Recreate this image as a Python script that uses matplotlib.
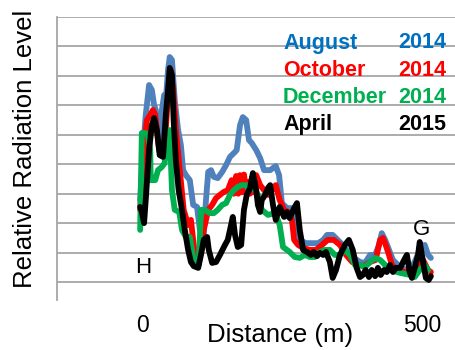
"""Radiation level along the transect for four survey campaigns."""

import matplotlib

matplotlib.use("Agg")

import matplotlib.pyplot as plt
import numpy as np

plt.rcParams["font.family"] = ["Liberation Sans", "DejaVu Sans"]

# distance (m), relative level for each survey
aug_x = [-5, 0, 5, 11, 16, 20, 23, 27, 30, 34, 38, 41, 45, 48, 52, 57, 63, 68, 72, 77,
         84, 90, 97, 102, 108, 113, 117, 122, 127, 134, 142, 149, 156, 163, 168, 174,
         179, 185, 190, 195, 203, 210, 217, 228, 238, 244, 249, 258, 267, 274, 281,
         292, 303, 314, 323, 330, 340, 349, 358, 367, 378, 389, 398, 407, 416, 423,
         428, 434, 441, 448, 457, 470, 479, 487, 496, 505, 511, 516]
aug_y = [2.79, 4.48, 5.67, 6.69, 6.52, 6.01, 5.84, 4.99, 4.82, 5.84, 6.35, 6.18, 7.2,
         7.64, 7.54, 6.18, 5.16, 4.65, 3.8, 3.63, 3.46, 2.62, 2.55, 1.77, 1.43, 2.79,
         3.74, 3.8, 3.57, 3.53, 3.74, 3.97, 4.25, 4.38, 4.48, 5.33, 5.6, 5.5, 4.82,
         4.72, 4.48, 4.21, 3.8, 3.8, 3.94, 3.63, 2.68, 2.51, 2.51, 2.11, 1.43, 1.32,
         1.32, 1.32, 1.43, 1.6, 1.6, 1.43, 1.26, 1.02, 0.82, 0.68, 0.65, 0.92, 0.92,
         1.26, 1.66, 1.43, 1.09, 0.75, 0.58, 0.41, 0.48, 0.68, 1.09, 1.26, 0.92, 0.82]

oct_x = [-5, 0, 7, 13, 18, 22, 25, 29, 32, 36, 39, 45, 50, 54, 59, 66, 73, 81, 86, 91,
         95, 100, 104, 109, 117, 124, 131, 138, 145, 152, 159, 163, 167, 171, 174,
         178, 181, 185, 188, 192, 195, 199, 203, 210, 217, 224, 231, 238, 245, 253,
         260, 267, 271, 278, 288, 299, 310, 321, 331, 342, 353, 364, 375, 385, 396,
         407, 417, 425, 430, 435, 441, 446, 457, 470, 482, 493, 502, 511, 516]
oct_y = [2.45, 4.14, 5.5, 5.67, 5.84, 5.67, 5.16, 4.48, 4.42, 4.48, 4.65, 6.35, 7.2,
         6.52, 5.16, 3.8, 2.45, 1.94, 2.11, 1.26, 0.75, 0.65, 1.09, 1.77, 2.45, 2.62,
         2.85, 2.96, 3.06, 3.12, 3.46, 3.0, 3.6, 3.0, 3.63, 3.05, 3.65, 3.1, 3.4, 3.0,
         3.53, 3.05, 3.63, 3.29, 3.12, 2.96, 3.12, 3.29, 2.79, 2.45, 2.38, 2.11, 1.43,
         1.26, 1.15, 1.09, 1.09, 1.26, 1.43, 1.43, 1.26, 0.92, 0.68, 0.58, 0.54, 0.68,
         0.75, 1.43, 1.5, 1.26, 0.92, 0.58, 0.41, 0.34, 0.34, 0.58, 0.75, 0.41, 0.34]

dec_x = [-5, -2, 4, 9, 13, 14, 22, 27, 34, 39, 43, 48, 52, 57, 65, 70, 77, 84, 90, 97,
         100, 104, 111, 120, 127, 134, 142, 149, 156, 163, 170, 177, 185, 190, 197,
         206, 213, 224, 237, 245, 251, 263, 272, 281, 290, 299, 308, 317, 326, 335,
         344, 353, 362, 371, 380, 389, 398, 407, 416, 425, 434, 443, 461, 479, 487,
         496, 505, 511]
dec_y = [1.77, 5.06, 5.06, 4.99, 4.48, 3.46, 3.46, 3.8, 3.91, 4.04, 5.16, 5.16, 3.12,
         2.45, 2.38, 1.77, 1.53, 1.53, 0.82, 0.65, 0.58, 2.45, 2.45, 2.34, 2.34, 2.45,
         2.62, 2.68, 2.96, 3.12, 3.23, 3.29, 3.29, 3.12, 3.26, 2.96, 2.45, 2.28, 2.34,
         1.94, 1.19, 1.02, 0.85, 0.82, 0.92, 0.85, 0.85, 1.02, 1.09, 1.09, 0.92, 0.92,
         1.09, 0.92, 0.58, 0.58, 0.51, 0.68, 0.82, 0.75, 0.58, 0.41, 0.31, 0.24, 0.17,
         0.41, 0.58, 0.41]

apr_x = [-5, -2, 2, 5, 11, 16, 20, 25, 30, 36, 41, 45, 48, 52, 55, 59, 64, 70, 75, 81,
         86, 91, 99, 104, 109, 115, 118, 124, 131, 138, 147, 152, 158, 161, 165, 170,
         176, 181, 186, 192, 197, 203, 206, 210, 213, 219, 224, 228, 233, 238, 245,
         253, 258, 263, 271, 276, 281, 287, 294, 301, 306, 312, 317, 323, 328, 335,
         340, 346, 353, 362, 369, 376, 383, 389, 394, 399, 405, 410, 416, 421, 426,
         432, 437, 443, 448, 453, 461, 468, 473, 478, 482, 487, 493, 496, 502, 507,
         512, 516]
apr_y = [2.55, 2.38, 2.0, 2.79, 4.48, 5.33, 5.57, 5.16, 4.31, 4.25, 5.67, 6.52, 7.27,
         7.03, 5.5, 4.14, 3.12, 2.45, 1.77, 1.09, 0.68, 0.54, 0.48, 0.92, 1.43, 1.53,
         1.09, 0.65, 0.68, 0.92, 1.26, 1.43, 1.94, 2.21, 1.6, 1.19, 1.26, 2.45, 2.96,
         3.19, 3.7, 3.12, 2.62, 2.38, 2.79, 2.96, 3.19, 3.29, 2.62, 2.11, 2.55, 2.21,
         2.38, 2.17, 2.51, 2.68, 1.77, 1.09, 1.02, 0.92, 1.02, 0.88, 0.99, 0.92, 1.02,
         0.68, 0.14, 0.41, 0.92, 1.26, 1.43, 1.09, 0.48, 0.17, 0.24, 0.41, 0.17, 0.41,
         0.2, 0.48, 0.24, 0.41, 0.34, 0.58, 0.34, 0.48, 0.48, 0.75, 0.92, 0.34, 0.14,
         0.48, 0.92, 1.36, 0.68, 0.14, 0.07, 0.2]

labels = ["August", "October", "December", "April"]
years = ["2014", "2014", "2014", "2015"]
line_colors = ["#4f81bd", "#ff0000", "#00b050", "#000000"]
text_colors = ["#0070c0", "#ff0000", "#00b050", "#000000"]


def main() -> None:
    fig = plt.figure(figsize=(4.56, 3.5), dpi=100)
    ax = fig.add_axes([57 / 456, 50 / 350, 399 / 456, 283 / 350])

    series = [(aug_x, aug_y), (oct_x, oct_y), (dec_x, dec_y), (apr_x, apr_y)]
    for (xs, ys), color in zip(series, line_colors):
        ax.plot(np.array(xs), np.array(ys), color=color, lw=4.2,
                solid_joinstyle="round", solid_capstyle="round")

    ax.set_xlim(-154, 561)
    ax.set_ylim(-0.61, 9)
    ax.set_yticks(np.arange(0, 10))
    ax.yaxis.grid(True, color="#a6a6a6", lw=1.3)
    ax.set_axisbelow(True)
    ax.tick_params(axis="y", length=0, labelleft=False)
    ax.set_xticks([0, 500])
    ax.set_xticklabels(["0", "500"], fontsize=16.5)
    ax.tick_params(axis="x", length=0, pad=10)
    for side in ["top", "right", "bottom"]:
        ax.spines[side].set_visible(False)
    ax.spines["left"].set_color("#a6a6a6")
    ax.spines["left"].set_linewidth(1.3)

    ax.text(0, 0.5, "H", fontsize=16, ha="center", va="center")
    ax.text(500, 1.77, "G", fontsize=16, ha="center", va="center")

    fig.text(280 / 456, 1 - 335 / 350, "Distance (m)", fontsize=18.5,
             ha="center", va="center")
    fig.text(25 / 456, 1 - 149 / 350, "Relative Radiation Level", fontsize=18.5,
             rotation=90, ha="center", va="center")

    # legend written as coloured text in the upper right
    for i, (name, year, color) in enumerate(zip(labels, years, text_colors)):
        ypos = 1 - (43 + i * 27.3) / 350
        fig.text(283 / 456, ypos, name, fontsize=15.5, fontweight="bold",
                 color=color, ha="left", va="center")
        fig.text(446 / 456, ypos, year, fontsize=15.5, fontweight="bold",
                 color=color, ha="right", va="center")

    fig.savefig("out.png", dpi=100)
    plt.close(fig)


if __name__ == "__main__":
    main()
